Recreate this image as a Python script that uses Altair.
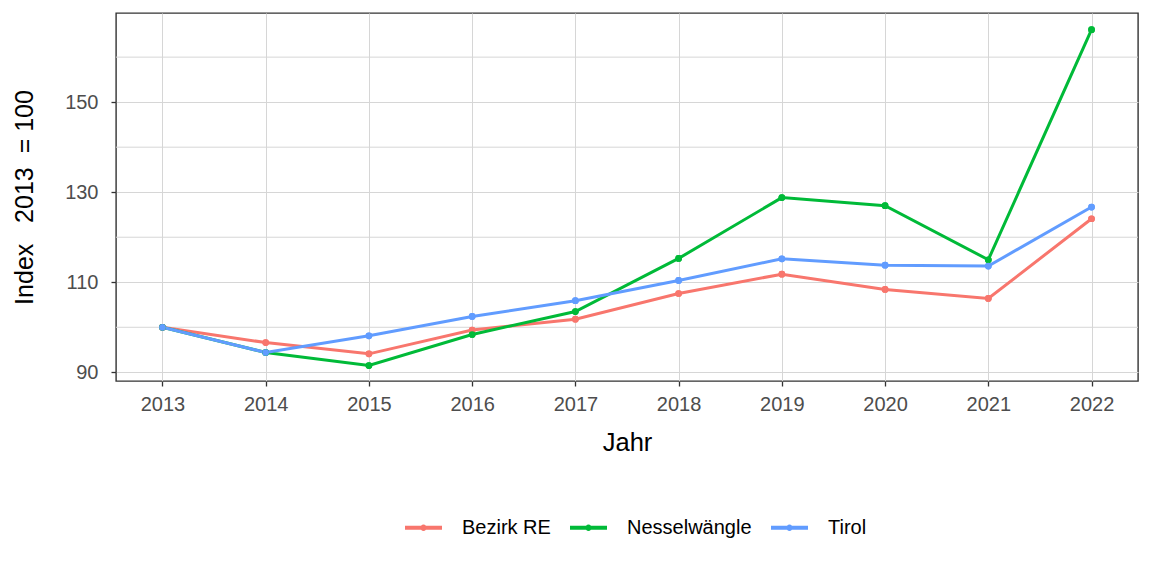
import altair as alt
import pandas as pd

years = list(range(2013, 2023))
bezirk_re = [100, 96.6, 94.1, 99.4, 101.8, 107.5, 111.8, 108.4, 106.4, 124.1]
nesselwaengle = [100, 94.4, 91.5, 98.4, 103.5, 115.3, 128.8, 127.0, 115.0, 166.1]
tirol = [100, 94.4, 98.1, 102.4, 105.9, 110.4, 115.2, 113.8, 113.6, 126.7]
series_names = ["Bezirk RE", "Nesselwängle", "Tirol"]
colors = ["#F8766D", "#00BA38", "#619CFF"]
major_ticks = [90, 110, 130, 150]
minor_ticks = [100, 120, 140, 160]

rows = []
for name, vals in zip(series_names, [bezirk_re, nesselwaengle, tirol]):
    for yr, v in zip(years, vals):
        rows.append({"Jahr": yr, "Index": v, "Region": name})
df = pd.DataFrame(rows)

FONT = "Liberation Sans"
xscale = alt.Scale(domain=[2012.55, 2022.45], nice=False, zero=False)
yscale = alt.Scale(domain=[88.07, 169.8], nice=False, zero=False)
cscale = alt.Scale(domain=series_names, range=colors)

x = alt.X("Jahr:Q", scale=xscale,
          axis=alt.Axis(values=years, format="d", title="Jahr",
                        labelPadding=8, titlePadding=16))
y = alt.Y("Index:Q", scale=yscale,
          axis=alt.Axis(values=major_ticks, title="Index\u00a0 \u00a02013\u00a0 = 100",
                        labelPadding=13, titlePadding=27, titleFontSize=25))

minor = alt.Chart(pd.DataFrame({"Index": minor_ticks})).mark_rule(
    color="#d6d6d6", strokeWidth=1
).encode(y=y)

legend_path = ("M-1,-0.11H1V0.11H-1Z "
               "M0.17,0A0.17,0.17 0 1,1 -0.17,0A0.17,0.17 0 1,1 0.17,0Z")
legend = alt.Legend(title=None, orient="none", direction="horizontal",
                    legendX=289, legendY=496,
                    symbolType=legend_path, symbolSize=1369,
                    symbolStrokeWidth=0, labelOffset=20,
                    columnPadding=19, padding=0,
                    labelFontSize=20, labelFont=FONT,
                    labelColor="#000000")

legend_src = alt.Chart(df).mark_point(filled=True, size=45, opacity=1).encode(
    x=x, y=y,
    color=alt.Color("Region:N", scale=cscale, legend=legend),
)

lines = alt.Chart(df).mark_line(strokeWidth=3).encode(
    x=x, y=y, color=alt.Color("Region:N", scale=cscale, legend=None), detail="Region:N"
)

points = alt.Chart(df).mark_point(filled=True, size=45, opacity=1).encode(
    x=x, y=y,
    color=alt.Color("Region:N", scale=cscale, legend=None),
)

chart = alt.layer(minor, legend_src, lines, points).properties(
    width=1022, height=368,
    background="white",
    autosize=alt.AutoSizeParams(type="none"),
    padding={"left": 108, "top": 5, "right": 6, "bottom": 170},
).configure_view(
    stroke="#333333", strokeWidth=1.4
).configure_axis(
    labelFont=FONT, labelFontSize=20, labelColor="#4d4d4d",
    titleFont=FONT, titleFontSize=25.5, titleColor="#000000", titleFontWeight="normal",
    tickColor="#333333", tickSize=5, tickWidth=1.3, domain=False,
    gridColor="#d6d6d6", gridWidth=1,
)

chart.save("out.html", embed_options={"renderer": "svg", "actions": False})
